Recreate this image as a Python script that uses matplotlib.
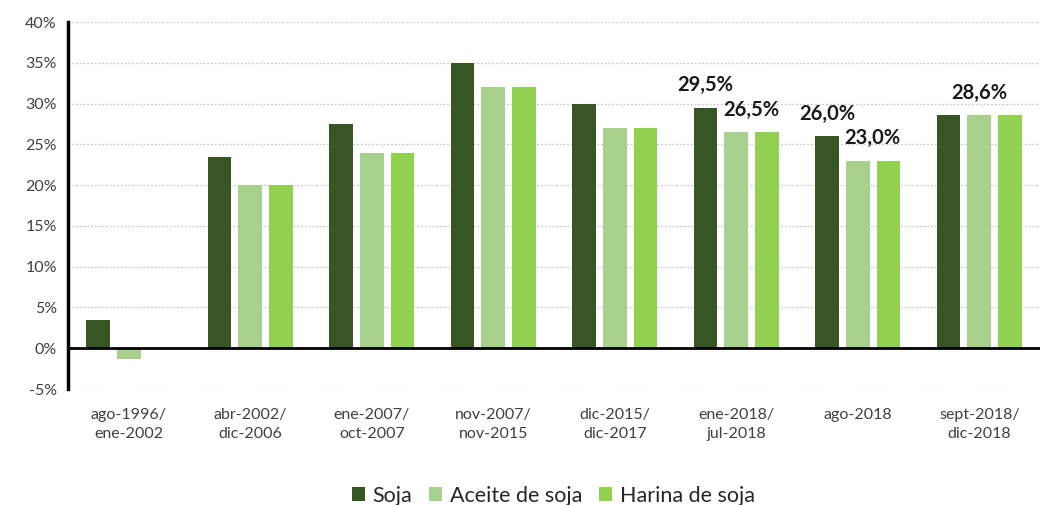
import matplotlib
matplotlib.use("Agg")
import matplotlib.pyplot as plt
import numpy as np

plt.rcParams['font.family'] = ['Lato', 'DejaVu Sans']

categories = ["ago-1996/\nene-2002", "abr-2002/\ndic-2006", "ene-2007/\noct-2007",
              "nov-2007/\nnov-2015", "dic-2015/\ndic-2017", "ene-2018/\njul-2018",
              "ago-2018", "sept-2018/\ndic-2018"]
soja = [3.5, 23.5, 27.5, 35.0, 30.0, 29.5, 26.0, 28.6]
aceite = [-1.3, 20.0, 24.0, 32.0, 27.0, 26.5, 23.0, 28.6]
harina = [np.nan, 20.0, 24.0, 32.0, 27.0, 26.5, 23.0, 28.6]
series_names = ["Soja", "Aceite de soja", "Harina de soja"]
colors = ["#375623", "#A9D18E", "#92D050"]
yticks = [-5, 0, 5, 10, 15, 20, 25, 30, 35, 40]

fig = plt.figure(figsize=(10.4, 5.05), dpi=100)
ax = fig.add_axes([0.0654, 0.2297, 0.9346, 0.7267])

x = np.arange(len(categories))
step = 0.253
width = 0.197
for i, (vals, name, c) in enumerate(zip([soja, aceite, harina], series_names, colors)):
    ax.bar(x + (i - 1) * step, vals, width=width, color=c, label=name, zorder=3)

# data labels
tc = "#1a1a1a"
lab_kw = dict(ha="center", va="bottom", fontsize=14.5, fontweight="bold", color=tc, zorder=5)
ax.text(x[5] - step, soja[5] + 1.5, "29,5%", **lab_kw)
ax.text(x[5] + 0.12, aceite[5] + 1.5, "26,5%", **lab_kw)
ax.text(x[6] - step, soja[6] + 1.5, "26,0%", **lab_kw)
ax.text(x[6] + 0.12, aceite[6] + 1.5, "23,0%", **lab_kw)
ax.text(x[7], soja[7] + 1.5, "28,6%", **lab_kw)

ax.set_xlim(-0.5, len(categories) - 0.5)
ax.set_ylim(-5, 40)
ax.set_yticks(yticks)
ax.set_yticklabels([f"{v}%" for v in yticks], fontsize=11.5, color="#404040")
ax.set_xticks(x)
ax.set_xticklabels(categories, fontsize=11.5, color="#404040", linespacing=1.45)
ax.tick_params(axis="x", length=0, pad=14)
ax.tick_params(axis="y", length=0, pad=8)

for v in yticks:
    if v != 0:
        ax.axhline(v, color="#c8c8c8", linestyle=(0, (1.5, 1.5)), linewidth=0.9, zorder=1)
ax.axhline(0, color="black", linewidth=2, zorder=4)

for s in ["top", "right", "bottom"]:
    ax.spines[s].set_visible(False)
ax.spines["left"].set_linewidth(2.5)
ax.spines["left"].set_color("black")

handles, labels = ax.get_legend_handles_labels()
fig.legend(handles, labels, loc="center", bbox_to_anchor=(0.532, 0.018), ncol=3,
           frameon=False, fontsize=15.5, handlelength=0.6, handleheight=0.6,
           handletextpad=0.35, columnspacing=0.8, labelcolor="#262626")

fig.savefig("out.png", dpi=100)
